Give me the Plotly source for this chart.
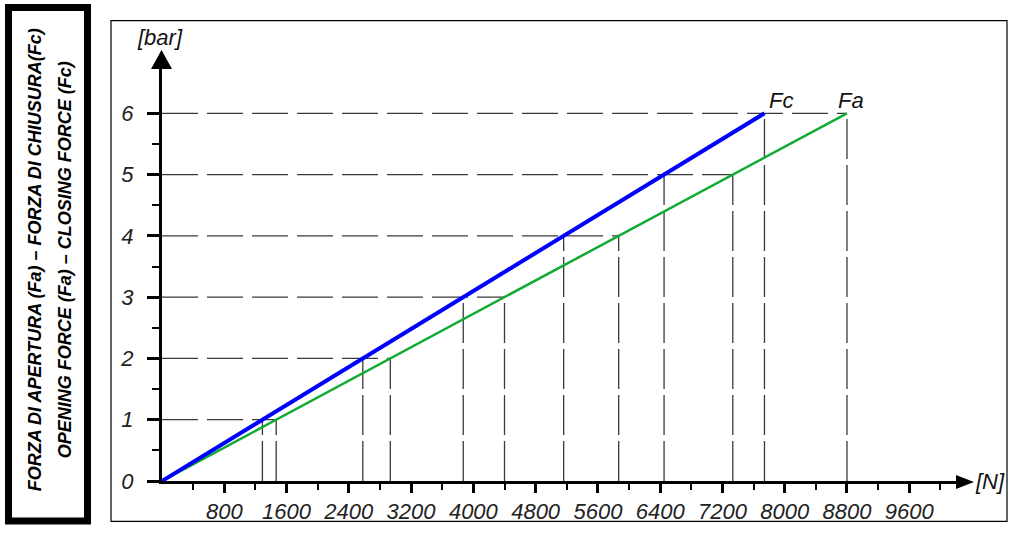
import plotly.graph_objects as go

# ---- data ----
levels = [0, 1, 2, 3, 4, 5, 6]                       # pressure [bar]
fc_force = [0, 1290, 2580, 3870, 5160, 6450, 7740]   # closing force Fc [N]
fa_force = [0, 1467, 2933, 4400, 5867, 7333, 8800]   # opening force Fa [N]
x_tickvals = [800, 1600, 2400, 3200, 4000, 4800, 5600, 6400, 7200, 8000, 8800, 9600]
x_minorvals = [400, 1200, 2000, 2800, 3600, 4400, 5200, 6000, 6800, 7600, 8400, 9200, 10000]
y_tickvals = [0, 1, 2, 3, 4, 5, 6]
y_minorvals = [0.5, 1.5, 2.5, 3.5, 4.5, 5.5]

# ---- layout geometry (pixels) ----
W, H = 1016, 536
L, R, T, B = 162, 58, 68, 49
PX_PER_N = 0.07784
PX_PER_BAR = 62.17
plot_w = W - L - R
plot_h = H - T - B

def px_x(px):
    return (px - L) / plot_w

def px_y(py):
    return (H - B - py) / plot_h

FONT = "Liberation Sans, Arial, sans-serif"

fig = go.Figure()

# guide lines
hx, hy, vx, vy = [], [], [], []
for lv, fc, fa in zip(levels, fc_force, fa_force):
    if lv == 0:
        continue
    hx += [0, fa, None]
    hy += [lv, lv, None]
    vx += [fc, fc, None, fa, fa, None]
    vy += [0, lv, None, 0, lv, None]

fig.add_trace(go.Scatter(x=hx, y=hy, mode="lines", hoverinfo="skip", showlegend=False,
                         line=dict(color="#3a3a3a", width=1.3, dash="36px,9px")))
fig.add_trace(go.Scatter(x=vx, y=vy, mode="lines", hoverinfo="skip", showlegend=False,
                         line=dict(color="#3a3a3a", width=1.3, dash="40px,6px")))

fig.add_trace(go.Scatter(x=fa_force, y=levels, mode="lines", name="Fa", showlegend=False,
                         line=dict(color="#11aa33", width=2.5)))
fig.add_trace(go.Scatter(x=fc_force, y=levels, mode="lines", name="Fc", showlegend=False,
                         line=dict(color="#0000ff", width=4)))

tickfont = dict(family=FONT, size=22, color="#222222", style="italic")

fig.update_xaxes(range=[0, plot_w / PX_PER_N], showgrid=False, zeroline=False,
                 showline=True, linecolor="black", linewidth=3,
                 ticks="outside", ticklen=9, tickwidth=3, tickcolor="black",
                 tickmode="array", tickvals=x_tickvals, ticktext=[str(v) for v in x_tickvals],
                 tickfont=tickfont, ticklabelstandoff=0,
                 minor=dict(ticks="outside", ticklen=6, tickwidth=2, tickcolor="black",
                            tickmode="array", tickvals=x_minorvals, showgrid=False))
fig.update_yaxes(range=[0, plot_h / PX_PER_BAR], showgrid=False, zeroline=False,
                 showline=True, linecolor="black", linewidth=3,
                 ticks="outside", ticklen=12, tickwidth=3, tickcolor="black",
                 tickmode="array", tickvals=y_tickvals, ticktext=[str(v) for v in y_tickvals],
                 tickfont=tickfont, ticklabelstandoff=9,
                 minor=dict(ticks="outside", ticklen=7, tickwidth=2, tickcolor="black",
                            tickmode="array", tickvals=y_minorvals, showgrid=False))

shapes = [
    # x arrow head
    dict(type="path", xref="paper", yref="paper", xsizemode="pixel", ysizemode="pixel",
         xanchor=1, yanchor=0, path="M -2,-8 L -2,6 L 16,-1 Z",
         fillcolor="black", line=dict(width=0)),
    # y arrow head
    dict(type="path", xref="paper", yref="paper", xsizemode="pixel", ysizemode="pixel",
         xanchor=0, yanchor=1, path="M -11,-1 L 10,-1 L -0.5,18 Z",
         fillcolor="black", line=dict(width=0)),
    # thin outer frame of the chart
    dict(type="rect", xref="paper", yref="paper",
         x0=px_x(111), x1=px_x(1007), y0=px_y(528), y1=px_y(20),
         line=dict(color="black", width=1.2), fillcolor="rgba(0,0,0,0)"),
    # thick box on the left
    dict(type="rect", xref="paper", yref="paper",
         x0=px_x(8.5), x1=px_x(87.5), y0=px_y(527.5), y1=px_y(6.5),
         line=dict(color="black", width=7), fillcolor="rgba(0,0,0,0)"),
]

lab = dict(family=FONT, size=22, color="#111111", style="italic")
side = dict(family=FONT, size=18, color="black", style="italic", weight="bold")
annotations = [
    dict(text="[bar]", x=px_x(160), y=px_y(37), xref="paper", yref="paper",
         showarrow=False, font=lab, xanchor="center", yanchor="middle"),
    dict(text="[N]", x=px_x(990), y=px_y(487), xref="paper", yref="paper",
         showarrow=False, font=lab, xanchor="center", yanchor="middle"),
    dict(text="Fc", x=px_x(781), y=px_y(101), xref="paper", yref="paper",
         showarrow=False, font=lab, xanchor="center", yanchor="middle"),
    dict(text="Fa", x=px_x(851), y=px_y(101), xref="paper", yref="paper",
         showarrow=False, font=lab, xanchor="center", yanchor="middle"),
    dict(text="FORZA DI APERTURA (Fa) – FORZA DI CHIUSURA(Fc)", x=px_x(35), y=px_y(263),
         xref="paper", yref="paper", showarrow=False, textangle=-90,
         font=side, xanchor="center", yanchor="middle"),
    dict(text="OPENING FORCE (Fa) – CLOSING FORCE (Fc)", x=px_x(65), y=px_y(263),
         xref="paper", yref="paper", showarrow=False, textangle=-90,
         font=side, xanchor="center", yanchor="middle"),
]

fig.update_layout(width=W, height=H, margin=dict(l=L, r=R, t=T, b=B),
                  paper_bgcolor="white", plot_bgcolor="white",
                  shapes=shapes, annotations=annotations, showlegend=False)

fig.write_html("out.html", config={"displayModeBar": False},
               post_script="document.body.style.margin='0';")
